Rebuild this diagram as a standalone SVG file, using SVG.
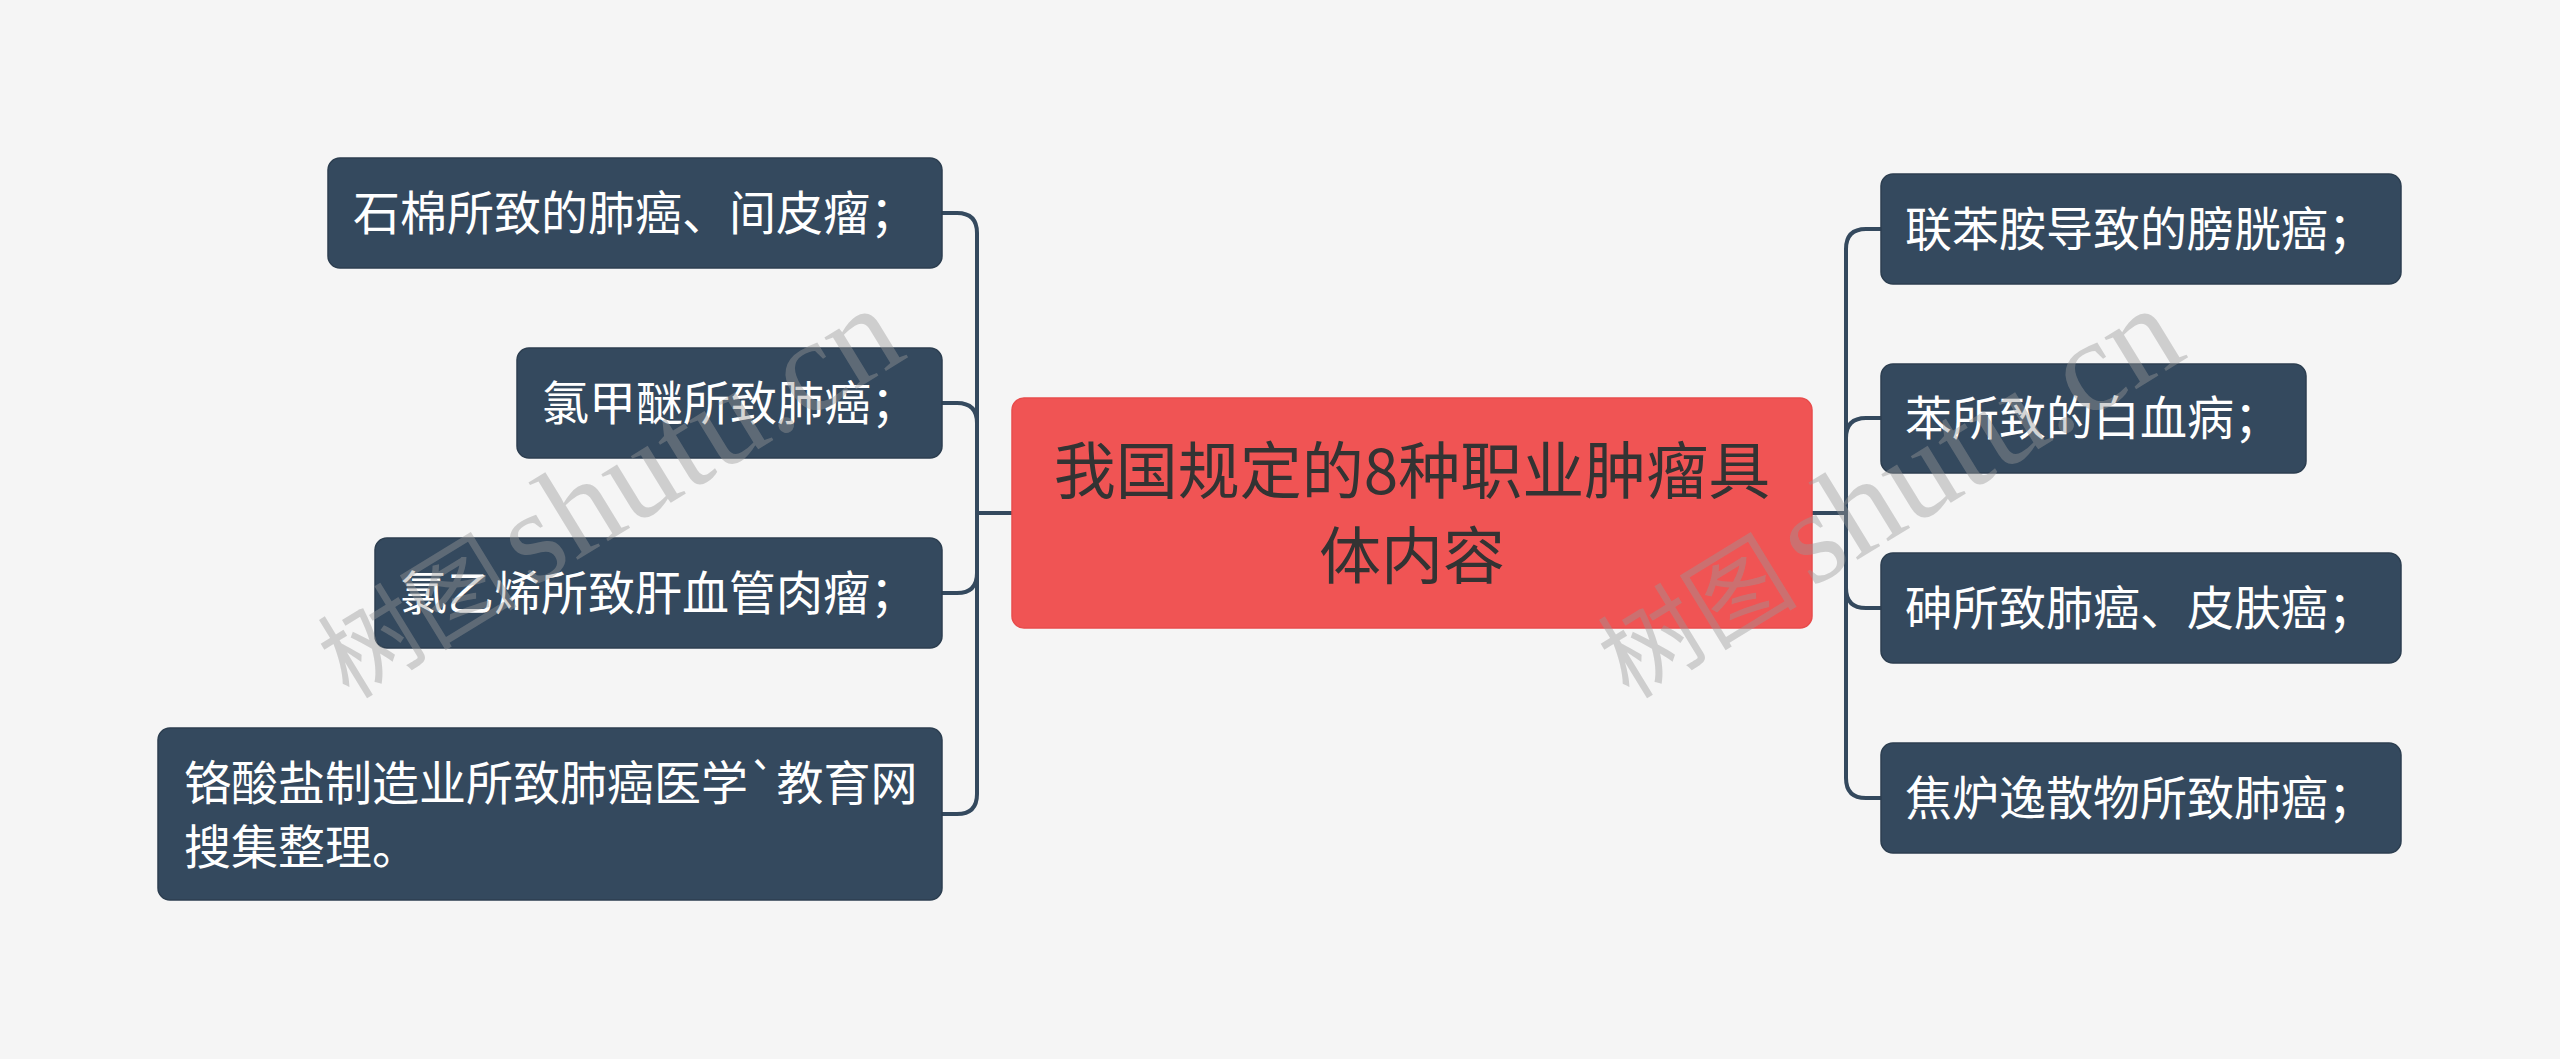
<svg xmlns="http://www.w3.org/2000/svg" width="2560" height="1059" viewBox="0 0 2560 1059">
<style>
.bg{fill:#f5f5f5}
.leaf{fill:#34495e;stroke:#2c3e50;stroke-width:1.5}
.leaf-t{fill:#ffffff;font-family:"Noto Sans CJK SC","Noto Sans",sans-serif;font-size:47px}
.root{fill:#f05454;stroke:#e84c4c;stroke-width:1.5}
.root-t{fill:#333333;font-family:"Noto Sans CJK SC","Noto Sans",sans-serif;font-size:62px;text-anchor:middle}
.conn{fill:none;stroke:#34495e;stroke-width:4}
.wm{fill:#999999;fill-opacity:0.42;font-family:"Liberation Serif","Noto Sans CJK SC",serif;font-size:132px}
.wm-cjk{font-family:"Noto Sans CJK SC",serif;font-size:100px}
</style>
<rect class="bg" x="0" y="0" width="2560" height="1059"/>
<g id="connectors">
<path class="conn" d="M1012,513 H977"/>
<path class="conn" d="M977,513 V233 Q977,213 957,213 H942"/>
<path class="conn" d="M977,513 V423 Q977,403 957,403 H942"/>
<path class="conn" d="M977,513 V573 Q977,593 957,593 H942"/>
<path class="conn" d="M977,513 V794 Q977,814 957,814 H942"/>
<path class="conn" d="M1812,513 H1846"/>
<path class="conn" d="M1846,513 V249 Q1846,229 1866,229 H1881"/>
<path class="conn" d="M1846,513 V438 Q1846,418 1866,418 H1881"/>
<path class="conn" d="M1846,513 V588 Q1846,608 1866,608 H1881"/>
<path class="conn" d="M1846,513 V778 Q1846,798 1866,798 H1881"/>
</g>
<g id="root">
<rect class="root" x="1012" y="398" width="800" height="230" rx="12"/>
<text class="root-t" x="1412" y="494">我国规定的8种职业肿瘤具</text>
<text class="root-t" x="1412" y="579">体内容</text>
</g>
<g id="n1">
<rect class="leaf" x="328" y="158" width="614" height="110" rx="12"/>
<text class="leaf-t" x="353" y="230">石棉所致的肺癌、间皮瘤；</text>
</g>
<g id="n2">
<rect class="leaf" x="517" y="348" width="425" height="110" rx="12"/>
<text class="leaf-t" x="542" y="420">氯甲醚所致肺癌；</text>
</g>
<g id="n3">
<rect class="leaf" x="375" y="538" width="567" height="110" rx="12"/>
<text class="leaf-t" x="400" y="610">氯乙烯所致肝血管肉瘤；</text>
</g>
<g id="n4">
<rect class="leaf" x="158" y="728" width="784" height="172" rx="12"/>
<text class="leaf-t" x="184" y="800">铬酸盐制造业所致肺癌医学`教育网</text>
<text class="leaf-t" x="184" y="864">搜集整理。</text>
</g>
<g id="r1">
<rect class="leaf" x="1881" y="174" width="520" height="110" rx="12"/>
<text class="leaf-t" x="1905" y="246">联苯胺导致的膀胱癌；</text>
</g>
<g id="r2">
<rect class="leaf" x="1881" y="364" width="425" height="109" rx="12"/>
<text class="leaf-t" x="1905" y="435">苯所致的白血病；</text>
</g>
<g id="r3">
<rect class="leaf" x="1881" y="553" width="520" height="110" rx="12"/>
<text class="leaf-t" x="1905" y="625">砷所致肺癌、皮肤癌；</text>
</g>
<g id="r4">
<rect class="leaf" x="1881" y="743" width="520" height="110" rx="12"/>
<text class="leaf-t" x="1905" y="815">焦炉逸散物所致肺癌；</text>
</g>
<g id="watermarks">
<text class="wm" x="349" y="700" transform="rotate(-31.5 349 700)"><tspan class="wm-cjk">树图</tspan><tspan dx="14">shutu.cn</tspan></text>
<text class="wm" x="1629" y="700" transform="rotate(-31.5 1629 700)"><tspan class="wm-cjk">树图</tspan><tspan dx="14">shutu.cn</tspan></text>
</g>
</svg>
